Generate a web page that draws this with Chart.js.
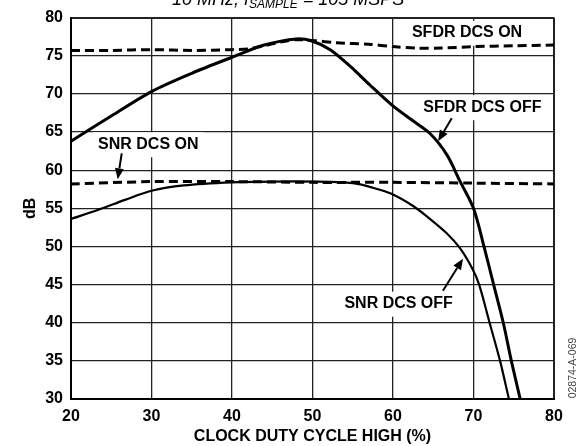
<!DOCTYPE html>
<html>
<head>
<meta charset="utf-8">
<script src="https://cdn.jsdelivr.net/npm/chart.js@4.4.1/dist/chart.umd.min.js"></script>
<style>
html, body { margin: 0; padding: 0; background: #fff; }
#chart { display: block; }
</style>
</head>
<body>
<canvas id="chart" width="582" height="446"></canvas>
<script>
'use strict';

// Axis ticks.
const xTicks = [20, 30, 40, 50, 60, 70, 80];
const yTicks = [30, 35, 40, 45, 50, 55, 60, 65, 70, 75, 80];

// Curves (clock duty cycle %, dB).
const sfdrOffX = [20, 25, 30, 35, 40, 44, 48, 50, 52.2, 54.7, 57.1, 59.8, 62.3, 64.6, 66.7, 68.3, 70.0, 71.3, 72.5, 73.7, 74.7, 75.8];
const sfdrOffY = [63.8, 67.1, 70.3, 72.7, 74.8, 76.4, 77.2, 76.9, 75.8, 73.6, 71.2, 68.6, 66.6, 64.8, 62.0, 58.6, 55.0, 50.0, 45.0, 40.0, 35.0, 30.0];

const snrOffX = [20, 23.4, 26.7, 30, 34, 40, 45, 50, 55, 57.5, 59.8, 62.5, 64.6, 66.7, 68.3, 69.8, 70.7, 72.0, 73.3, 74.4];
const snrOffY = [53.6, 54.8, 56.1, 57.3, 58.0, 58.4, 58.5, 58.5, 58.3, 57.7, 56.9, 55.3, 53.6, 51.7, 49.8, 47.2, 45.0, 40.0, 35.0, 30.0];

const sfdrOnX = [20, 25, 30, 35, 40, 42, 44, 46, 48, 50, 53, 57, 60, 63, 66, 70, 75, 80];
const sfdrOnY = [75.7, 75.7, 75.8, 75.7, 75.8, 75.9, 76.3, 76.8, 77.1, 77.0, 76.7, 76.5, 76.2, 76.0, 76.0, 76.2, 76.3, 76.4];

const snrOnX = [20, 30, 40, 50, 60, 70, 80];
const snrOnY = [58.2, 58.5, 58.5, 58.4, 58.4, 58.3, 58.2];

// Callout labels, placed in data units; arrow = [fromX, fromY, toX, toY].
const notes = [
    {text: 'SFDR DCS ON', x: 69.2, y: 78.0},
    {text: 'SFDR DCS OFF', x: 71.1, y: 68.25, arrow: [67.3, 66.8, 65.6, 63.8]},
    {text: 'SNR DCS ON', x: 29.6, y: 63.4, arrow: [26.3, 62.2, 25.8, 58.8]},
    {text: 'SNR DCS OFF', x: 60.7, y: 42.5, arrow: [66.2, 44.2, 68.7, 48.4]},
];

const FONT = '"Liberation Sans", Arial, Helvetica, sans-serif';

function points(xs, ys) {
    return xs.map((x, i) => ({x: x, y: ys[i]}));
}

function drawArrow(ctx, x1, y1, x2, y2) {
    const ang = Math.atan2(y2 - y1, x2 - x1);
    const len = 11, half = 4.5;
    const bx = x2 - len * Math.cos(ang), by = y2 - len * Math.sin(ang);
    ctx.beginPath();
    ctx.moveTo(x1, y1);
    ctx.lineTo(bx, by);
    ctx.stroke();
    ctx.beginPath();
    ctx.moveTo(x2, y2);
    ctx.lineTo(bx + half * Math.sin(ang), by - half * Math.cos(ang));
    ctx.lineTo(bx - half * Math.sin(ang), by + half * Math.cos(ang));
    ctx.closePath();
    ctx.fill();
}

const notesPlugin = {
    id: 'notes',
    beforeDatasetsDraw(chart) {
        // white patches behind the labels hide the grid
        const {ctx, scales: {x, y}} = chart;
        ctx.save();
        ctx.font = 'bold 16px ' + FONT;
        ctx.fillStyle = '#fff';
        for (const n of notes) {
            const w = ctx.measureText(n.text).width;
            const cx = x.getPixelForValue(n.x), cy = y.getPixelForValue(n.y);
            ctx.fillRect(cx - w / 2 - 5, cy - 12, w + 10, 25);
        }
        ctx.restore();
    },
    afterDatasetsDraw(chart) {
        const {ctx, scales: {x, y}} = chart;
        ctx.save();
        ctx.font = 'bold 16px ' + FONT;
        ctx.fillStyle = '#000';
        ctx.strokeStyle = '#000';
        ctx.lineWidth = 2;
        ctx.textAlign = 'center';
        ctx.textBaseline = 'middle';
        for (const n of notes) {
            ctx.fillText(n.text, x.getPixelForValue(n.x), y.getPixelForValue(n.y));
            if (n.arrow) {
                const a = n.arrow;
                drawArrow(ctx, x.getPixelForValue(a[0]), y.getPixelForValue(a[1]),
                    x.getPixelForValue(a[2]), y.getPixelForValue(a[3]));
            }
        }
        ctx.restore();
    },
    afterDraw(chart) {
        const ctx = chart.ctx;
        ctx.save();
        // caption line, mostly cut off at the top of the figure
        ctx.fillStyle = '#000';
        ctx.textBaseline = 'alphabetic';
        ctx.textAlign = 'left';
        let px = 172;
        const parts = [
            ['10 MHz, f', 'italic 18px ' + FONT, 5],
            ['SAMPLE', 'italic 12px ' + FONT, 8],
            [' = 105 MSPS', 'italic 18px ' + FONT, 5],
        ];
        for (const [t, f, base] of parts) {
            ctx.font = f;
            ctx.fillText(t, px, base);
            px += ctx.measureText(t).width;
        }
        // figure code on the right
        ctx.translate(573, 368);
        ctx.rotate(-Math.PI / 2);
        ctx.font = '10.5px ' + FONT;
        ctx.fillStyle = '#444';
        ctx.textAlign = 'center';
        ctx.textBaseline = 'middle';
        ctx.fillText('02874-A-069', 0, 0);
        ctx.restore();
    }
};

const edgeWidth = (lo, hi) => (c) => (c.tick && (c.tick.value === lo || c.tick.value === hi)) ? 2 : 1.3;

const ctx = document.getElementById('chart').getContext('2d');
new Chart(ctx, {
    type: 'line',
    data: {
        datasets: [
            {
                label: 'SFDR DCS OFF',
                data: points(sfdrOffX, sfdrOffY),
                borderColor: '#000',
                borderWidth: 3,
            },
            {
                label: 'SNR DCS OFF',
                data: points(snrOffX, snrOffY),
                borderColor: '#000',
                borderWidth: 2.2,
            },
            {
                label: 'SFDR DCS ON',
                data: points(sfdrOnX, sfdrOnY),
                borderColor: '#000',
                borderWidth: 3,
                borderDash: [9, 5],
            },
            {
                label: 'SNR DCS ON',
                data: points(snrOnX, snrOnY),
                borderColor: '#000',
                borderWidth: 3,
                borderDash: [9, 5],
            },
        ],
    },
    options: {
        responsive: false,
        animation: false,
        events: [],
        layout: {padding: {top: 16, right: 28, left: 0, bottom: 0}},
        elements: {
            point: {radius: 0},
            line: {tension: 0.3, fill: false},
        },
        plugins: {
            legend: {display: false},
            tooltip: {enabled: false},
        },
        scales: {
            x: {
                type: 'linear',
                min: 20,
                max: 80,
                afterBuildTicks: (s) => { s.ticks = xTicks.map(v => ({value: v})); },
                afterFit: (s) => { s.height = 47; },
                grid: {color: '#222', lineWidth: edgeWidth(20, 80), drawTicks: false},
                border: {display: true, color: '#000', width: 2},
                ticks: {
                    color: '#000',
                    padding: 8,
                    maxRotation: 0,
                    font: {family: FONT, size: 16, weight: 'bold'},
                },
                title: {
                    display: true,
                    text: 'CLOCK DUTY CYCLE HIGH (%)',
                    color: '#000',
                    padding: {top: 0, bottom: 0},
                    font: {family: FONT, size: 16, weight: 'bold'},
                },
            },
            y: {
                type: 'linear',
                min: 30,
                max: 80,
                afterBuildTicks: (s) => { s.ticks = yTicks.map(v => ({value: v})); },
                afterFit: (s) => { s.width = 71; },
                grid: {color: '#222', lineWidth: edgeWidth(30, 80), drawTicks: false},
                border: {display: true, color: '#000', width: 2},
                ticks: {
                    color: '#000',
                    padding: 8,
                    font: {family: FONT, size: 16, weight: 'bold'},
                },
                title: {
                    display: true,
                    text: 'dB',
                    color: '#000',
                    padding: {top: 21, bottom: 0},
                    font: {family: FONT, size: 16, weight: 'bold'},
                },
            },
        },
    },
    plugins: [notesPlugin],
});
</script>
</body>
</html>
